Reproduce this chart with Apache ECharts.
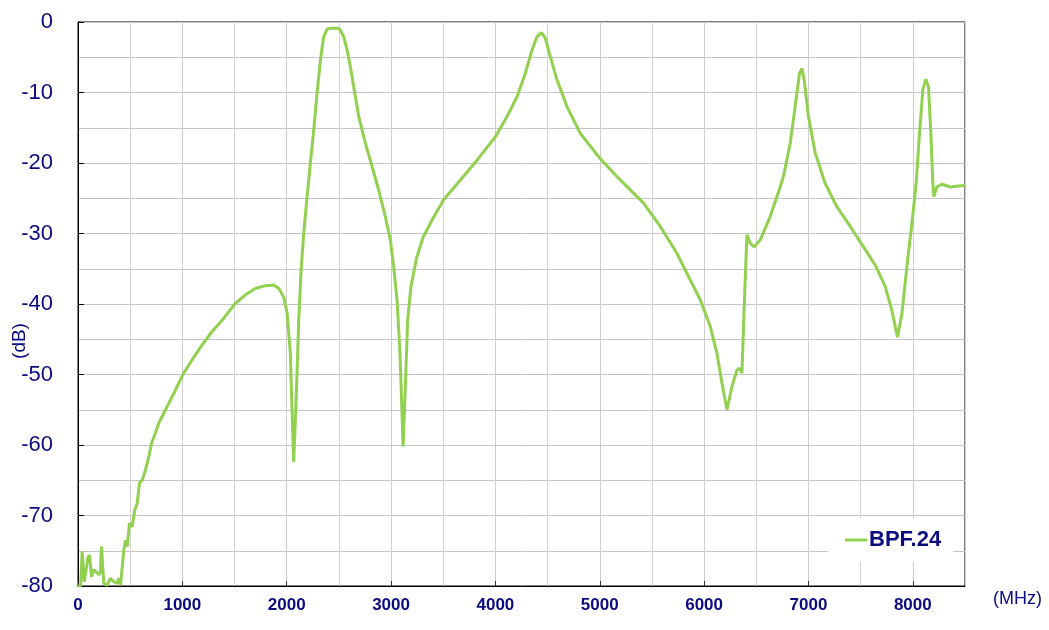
<!DOCTYPE html>
<html>
<head>
<meta charset="utf-8">
<script src="https://cdn.jsdelivr.net/npm/echarts@6/dist/echarts.min.js"></script>
<style>
	html, body { margin: 0; padding: 0; background: #fff; }
	#chart { width: 1049px; height: 630px; }
</style>
</head>
<body>
<div id="chart"></div>
<script>
// measured response, frequency in MHz and level in dB
let seriesName = 'BPF.24';
let freq = [0, 25, 40, 60, 72, 95, 110, 129, 152, 174, 200, 215, 225, 247, 280, 311, 343, 375, 391, 407, 420,
	439, 455, 471, 493, 519, 544, 567, 589, 615, 647, 678, 704, 742, 774, 822, 870, 934, 1013, 1094, 1190,
	1285, 1381, 1509, 1604, 1700, 1796, 1876, 1924, 1971, 2004, 2035, 2051, 2067, 2083, 2100, 2115, 2138,
	2163, 2195, 2227, 2259, 2291, 2323, 2354, 2387, 2420, 2450, 2480, 2508, 2546, 2579, 2610, 2642, 2690,
	2754, 2818, 2881, 2945, 2993, 3025, 3057, 3083, 3099, 3115, 3137, 3159, 3191, 3244, 3308, 3393, 3504,
	3664, 3824, 3999, 4111, 4207, 4286, 4350, 4398, 4440, 4478, 4526, 4590, 4686, 4813, 5005, 5196, 5420,
	5580, 5739, 5867, 5963, 6059, 6123, 6171, 6219, 6267, 6314, 6340, 6363, 6384, 6410, 6442, 6480, 6538,
	6633, 6729, 6760, 6825, 6872, 6914, 6937, 6959, 7000, 7065, 7160, 7272, 7400, 7528, 7640, 7735, 7799,
	7853, 7896, 7943, 7991, 8032, 8064, 8096, 8125, 8150, 8173, 8192, 8201, 8230, 8278, 8358, 8486, 8500];
let level = [-80, -80, -75.1, -79.4, -79.4, -76, -75.6, -78.7, -77.7, -78.0, -78.4, -78, -74.4, -79.6, -79.9,
	-78.9, -79.4, -79.6, -78.9, -79.9, -80,
	-74.9, -73.5, -74.4, -71.1, -71.6, -69.2, -68.3, -65.4, -65.0, -63.5, -61.7, -59.8, -58.3, -56.9, -55.5,
	-54.1, -52.2, -49.8, -47.9, -45.8, -43.9, -42.3, -39.9, -38.7, -37.8, -37.4, -37.3, -37.8, -39.0, -41.3,
	-47.0, -55.0, -62.4, -56.5, -49.4, -42.3, -35.2, -30.0, -24.8, -20.0, -15.3, -10.1, -5.4, -2.1, -1.0,
	-0.9, -0.9, -0.9, -1.0, -2.1, -4.0, -6.3, -9.2, -13.4, -17.2, -20.5, -23.8, -27.6, -30.9, -34.7, -39.4,
	-46.1, -52.7, -60.2, -51.7, -42.3, -37.5, -33.5, -30.5, -28.1, -25.2, -22.4, -19.6, -16.3, -13.4, -10.6,
	-7.3, -4.0, -2.1, -1.5, -2.3, -4.9, -8.2, -12.0, -15.8, -19.4, -22.4, -25.7, -29.0, -32.8, -36.6, -39.4,
	-43.2, -47.0, -51.2, -55.0, -51.7, -49.4, -49.1, -49.8, -40.4, -30.2, -31.4, -31.9, -30.9, -27.6, -23.4,
	-21.9, -17.2, -12.0, -7.3, -6.6, -8.2, -13.4, -18.6, -22.9, -26.2, -29.0, -31.9, -34.5, -37.5, -40.9,
	-44.7, -41.3, -34.7, -28.6, -22.9, -15.8, -9.6, -8.1, -9.2, -15.8, -22.9, -24.8, -23.4, -23.0, -23.4,
	-23.2, -23.1];

let navy = '#0b0b80';
let gridColor = '#c4c4c4';

let points = freq.map((f, i) => [f, level[i]]);

let myChart = echarts.init(document.getElementById('chart'), null, { renderer: 'canvas' });
let option = {
	backgroundColor: '#fff',
	animation: false,
	grid: {
		left: 78,
		right: 84,
		top: 22,
		bottom: 44,
		containLabel: false,
		outerBoundsMode: 'none',
		show: true,
		borderColor: '#000',
		borderWidth: 1
	},
	legend: {
		data: [seriesName],
		left: 828,
		top: 518,
		padding: [11, 12, 11, 17],
		backgroundColor: '#fff',
		icon: 'rect',
		itemWidth: 22,
		itemHeight: 3,
		itemGap: 4,
		textStyle: {
			color: navy,
			fontFamily: 'Liberation Sans',
			fontSize: 22,
			fontWeight: 'bold',
			padding: [0, 0, 0, -3]
		}
	},
	xAxis: {
		type: 'value',
		min: 0,
		max: 8500,
		interval: 1000,
		axisLine: { show: true, onZero: false, lineStyle: { color: '#000', width: 1 } },
		axisTick: { show: true, inside: true, length: 5, lineStyle: { color: '#333' } },
		axisLabel: {
			color: navy,
			fontFamily: 'Liberation Sans',
			fontSize: 17,
			fontWeight: 'bold',
			margin: 11,
			showMaxLabel: false,
			formatter: (v) => String(v)
		},
		splitLine: { show: true, lineStyle: { color: '#cdcdcd', width: 1 } },
		minorTick: { show: false, splitNumber: 2 },
		minorSplitLine: { show: true, lineStyle: { color: '#d4d4d4', width: 1 } }
	},
	yAxis: {
		type: 'value',
		min: -80,
		max: 0,
		interval: 10,
		axisLine: { show: true, onZero: false, lineStyle: { color: '#000', width: 1 } },
		axisTick: { show: true, inside: true, length: 6, lineStyle: { color: '#000' } },
		axisLabel: {
			color: navy,
			fontFamily: 'Liberation Sans',
			fontSize: 22,
			margin: 25
		},
		splitLine: { show: true, lineStyle: { color: gridColor, width: 1 } },
		minorTick: { show: false, splitNumber: 2 },
		minorSplitLine: { show: true, lineStyle: { color: gridColor, width: 1 } }
	},
	graphic: [{
		type: 'text',
		x: 20,
		y: 341,
		rotation: Math.PI / 2,
		style: {
			text: '(dB)',
			fill: navy,
			font: '19px "Liberation Sans"',
			textAlign: 'center',
			textVerticalAlign: 'middle'
		}
	}, {
		type: 'text',
		left: 993,
		top: 590,
		style: {
			text: '(MHz)',
			fill: navy,
			font: '18px "Liberation Sans"'
		}
	}],
	series: [{
		name: seriesName,
		type: 'line',
		data: points,
		showSymbol: false,
		symbol: 'none',
		color: '#92d050',
		lineStyle: { color: '#92d050', width: 3 },
		clip: true
	}]
};
myChart.setOption(option);
window.onresize = myChart.resize;
</script>
</body>
</html>
